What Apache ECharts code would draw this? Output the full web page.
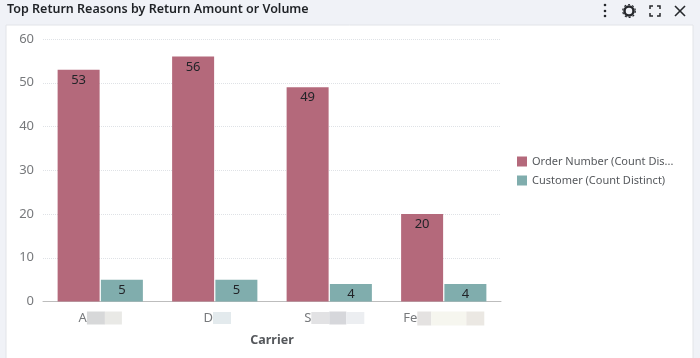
<!DOCTYPE html>
<html>
<head>
<meta charset="utf-8">
<style>
  html, body { margin: 0; padding: 0; background: #f0f2f7; }
  #chart { width: 700px; height: 358px; }
</style>
<script src="https://cdn.jsdelivr.net/npm/echarts@6/dist/echarts.min.js"></script>
</head>
<body>
<div id="chart"></div>
<script>
const categories = ['A', 'D', 'S', 'Fe'];
const orderNumber = [53, 56, 49, 20];
const customer = [5, 5, 4, 4];
const yTicks = { min: 0, max: 60, interval: 10 };

const FONT = '"Noto Sans", "Open Sans", sans-serif';

// the carrier names are blurred out in the picture, after the first letters
const blurRich = {
  name: { color: '#77797c', fontSize: 13, fontFamily: FONT },
  padD: { width: 5, height: 12 },
  padS: { width: 10, height: 12 },
  a1: { width: 18, height: 13, backgroundColor: '#d7d8d9' },
  a2: { width: 17, height: 13, backgroundColor: '#e9e9e6' },
  d1: { width: 18, height: 12, backgroundColor: '#e3eaed' },
  s1: { width: 18, height: 12, backgroundColor: '#e2e2e4' },
  s2: { width: 17, height: 13, backgroundColor: '#d6d7db' },
  s3: { width: 18, height: 12, backgroundColor: '#eceef1' },
  f1: { width: 14, height: 14, backgroundColor: '#e4e2e1' },
  f2: { width: 35, height: 14, backgroundColor: '#f6f6ef' },
  f3: { width: 18, height: 14, backgroundColor: '#ebe8e3' }
};
const blurLead = ['', '{padD|}', '{padS|}', ''];
const blurBlocks = [['a1', 'a2'], ['d1'], ['s1', 's2', 's3'], ['f1', 'f2', 'f3']];

const chart = echarts.init(document.getElementById('chart'));

const barLabel = {
  show: true,
  position: 'insideTop',
  distance: 4,
  color: '#222428',
  fontSize: 13,
  fontFamily: FONT
};

chart.setOption({
  animation: false,
  backgroundColor: '#f0f2f7',
  title: {
    text: 'Top Return Reasons by Return Amount or Volume',
    left: 2,
    top: -2,
    textStyle: { color: '#1f2226', fontSize: 12.5, fontWeight: 600, fontFamily: FONT }
  },
  grid: { left: 43, right: 199, top: 39, bottom: 56.5 },
  legend: {
    orient: 'vertical',
    left: 512,
    top: 151,
    itemWidth: 10,
    itemHeight: 10,
    itemGap: 8,
    icon: 'rect',
    textStyle: {
      color: '#55585c',
      fontSize: 11,
      fontFamily: FONT,
      width: 144,
      overflow: 'truncate',
      ellipsis: '...'
    }
  },
  xAxis: {
    type: 'category',
    data: categories,
    name: 'Carrier',
    nameLocation: 'middle',
    nameGap: 32,
    nameTextStyle: { color: '#55585c', fontSize: 12.5, fontWeight: 'bold', fontFamily: FONT },
    axisTick: { show: false },
    axisLine: { lineStyle: { color: '#bdbdbd', width: 1 } },
    axisLabel: {
      margin: 10,
      interval: 0,
      rich: blurRich,
      formatter: (value, i) => blurLead[i] + `{name|${value}}` + blurBlocks[i].map(b => `{${b}|}`).join('')
    }
  },
  yAxis: {
    type: 'value',
    min: yTicks.min,
    max: yTicks.max,
    interval: yTicks.interval,
    axisLine: { show: false },
    axisTick: { show: false },
    axisLabel: { color: '#77797c', fontSize: 13, margin: 9, fontFamily: FONT },
    splitLine: { lineStyle: { color: '#dfe2e6', type: 'dotted' } }
  },
  series: [
    {
      name: 'Order Number (Count Distinct)',
      type: 'bar',
      data: orderNumber,
      barWidth: 42,
      barGap: '3%',
      itemStyle: { color: '#b4697b' },
      label: barLabel
    },
    {
      name: 'Customer (Count Distinct)',
      type: 'bar',
      data: customer,
      barWidth: 42,
      itemStyle: { color: '#80adad' },
      label: barLabel
    }
  ],
  graphic: [
    // white card behind the plot
    { type: 'rect', z: -10, shape: { x: 6, y: 25, width: 687, height: 340 },
      style: { fill: '#ffffff', stroke: '#e2e4e8', lineWidth: 1 } },
    // toolbar icons
    { type: 'circle', shape: { cx: 605, cy: 5, r: 1.3 }, style: { fill: '#26282c' } },
    { type: 'circle', shape: { cx: 605, cy: 11, r: 1.3 }, style: { fill: '#26282c' } },
    { type: 'circle', shape: { cx: 605, cy: 16, r: 1.3 }, style: { fill: '#26282c' } },
    { type: 'circle', shape: { cx: 629, cy: 11, r: 4.5 }, style: { fill: 'none', stroke: '#26282c', lineWidth: 2.5 } },
    { type: 'circle', shape: { cx: 629, cy: 11, r: 6.3 }, style: { fill: 'none', stroke: '#26282c', lineWidth: 1.2, lineDash: [2, 2] } },
    { type: 'polyline', shape: { points: [[650, 9], [650, 6], [653, 6]] }, style: { fill: 'none', stroke: '#26282c', lineWidth: 1.5 } },
    { type: 'polyline', shape: { points: [[657, 6], [660, 6], [660, 9]] }, style: { fill: 'none', stroke: '#26282c', lineWidth: 1.5 } },
    { type: 'polyline', shape: { points: [[650, 13], [650, 16], [653, 16]] }, style: { fill: 'none', stroke: '#26282c', lineWidth: 1.5 } },
    { type: 'polyline', shape: { points: [[657, 16], [660, 16], [660, 13]] }, style: { fill: 'none', stroke: '#26282c', lineWidth: 1.5 } },
    { type: 'line', shape: { x1: 675, y1: 6, x2: 685, y2: 16 }, style: { stroke: '#26282c', lineWidth: 1.6 } },
    { type: 'line', shape: { x1: 685, y1: 6, x2: 675, y2: 16 }, style: { stroke: '#26282c', lineWidth: 1.6 } }
  ]
});
</script>
</body>
</html>
